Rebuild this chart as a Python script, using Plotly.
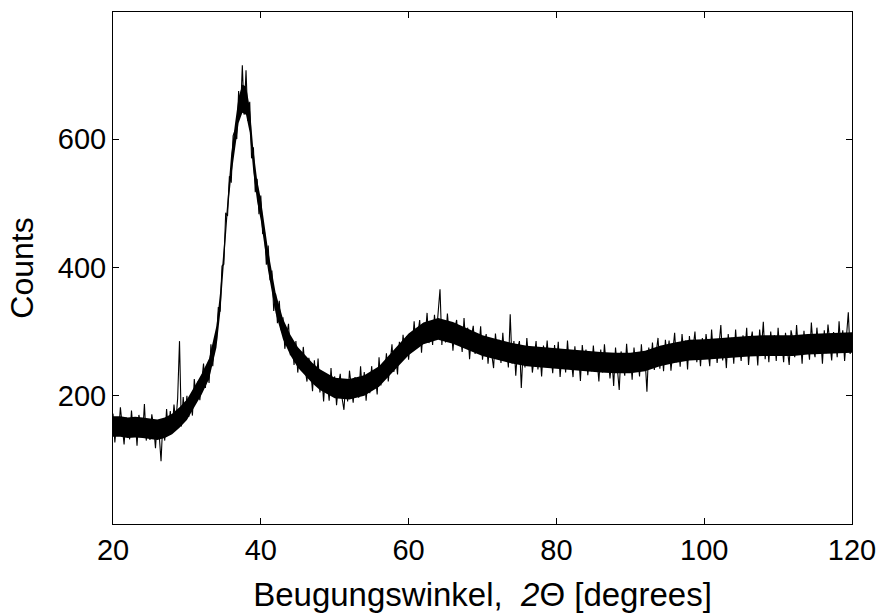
import numpy as np
import plotly.graph_objects as go

# X-ray diffraction scan, sampled every 0.25 degrees (2-theta) from 20 to 120.
STEP = 0.25
START = 20.0

# Counts, 20.00 - 44.75 deg
counts_20_45 = [
    172, 127, 160, 140, 182, 147, 124, 166, 155, 132, 177, 142, 164, 122, 170, 154, 137, 187, 130, 158,
    131, 171, 153, 118, 162, 139, 98, 160, 130, 179, 143, 176, 145, 186, 158, 196, 285, 152, 198, 163,
    200, 167, 194, 169, 226, 195, 222, 193, 222, 250, 212, 246, 220, 280, 246, 288, 284, 338, 331, 402,
    405, 485, 480, 542, 532, 605, 613, 600, 675, 637, 715, 638, 707, 628, 658, 570, 587, 517, 538, 483,
    512, 452, 456, 404, 434, 380, 395, 332, 359, 313, 348, 302, 322, 273, 294, 312, 263, 284, 248, 285,
]

# Counts, 45.00 - 69.75 deg
counts_45_70 = [
    236, 265, 239, 276, 241, 222, 259, 240, 207, 255, 218, 258, 205, 233, 191, 235, 222, 192, 243, 204,
    230, 185, 217, 234, 196, 178, 222, 191, 239, 208, 189, 229, 216, 197, 246, 204, 237, 192, 227, 204,
    246, 214, 232, 202, 260, 216, 247, 232, 266, 222, 256, 280, 237, 262, 233, 284, 256, 295, 266, 293,
    256, 293, 277, 316, 274, 296, 318, 267, 311, 292, 329, 282, 310, 279, 326, 294, 333, 366, 279, 318,
    283, 328, 295, 312, 270, 305, 318, 279, 297, 268, 321, 278, 306, 257, 292, 309, 265, 292, 273, 308,
]

# Counts, 70.00 - 94.75 deg
counts_70_95 = [
    256, 283, 296, 250, 287, 264, 243, 297, 268, 287, 251, 298, 258, 277, 244, 327, 250, 285, 231, 274,
    285, 212, 271, 244, 290, 256, 276, 236, 266, 285, 241, 271, 230, 278, 252, 286, 246, 266, 235, 279,
    246, 284, 229, 263, 272, 236, 286, 247, 257, 229, 277, 241, 265, 223, 279, 251, 272, 232, 262, 238,
    278, 242, 256, 222, 272, 236, 280, 246, 263, 227, 259, 215, 275, 237, 209, 269, 253, 231, 281, 243,
    265, 225, 275, 245, 262, 230, 280, 239, 258, 206, 275, 246, 283, 240, 267, 290, 242, 277, 238, 287,
]

# Counts, 95.00 - 120.00 deg
counts_95_120 = [
    258, 286, 239, 273, 298, 252, 281, 245, 296, 266, 286, 241, 293, 259, 275, 300, 252, 282, 246, 290,
    258, 296, 274, 246, 303, 263, 287, 251, 279, 310, 255, 283, 243, 296, 268, 290, 250, 303, 263, 279,
    254, 294, 268, 306, 248, 282, 300, 263, 287, 247, 303, 273, 315, 257, 290, 252, 300, 268, 294, 254,
    306, 266, 284, 252, 298, 274, 248, 302, 288, 260, 310, 270, 292, 250, 301, 265, 284, 256, 314, 274,
    260, 306, 272, 292, 250, 302, 266, 311, 277, 255, 299, 288, 260, 316, 270, 302, 254, 292, 330, 265,
    290,
]

# Dense core of the noisy trace: running centre and half-width of the band
band_theta = [
    20, 21, 22, 23, 24, 25, 26, 27, 28, 29, 30, 31, 32, 33, 34, 34.5, 35, 35.5, 36, 36.5,
    37, 37.5, 38, 38.5, 39, 39.5, 40, 41, 42, 43, 44, 45, 46, 47, 48, 49, 50, 52, 54, 56,
    58, 60, 62, 64, 66, 68, 70, 72, 74, 76, 78, 80, 82, 84, 86, 88, 90, 92, 94, 96,
    98, 100, 102, 104, 106, 108, 110, 112, 114, 116, 118, 120,
]
band_center = [
    152, 152, 150, 151, 150, 149, 147, 150, 156, 166, 178, 198, 218, 242, 292, 345, 420, 500, 560, 605,
    645, 663, 660, 630, 565, 520, 490, 410, 345, 304, 279, 260, 247, 235, 225, 218, 212, 210, 216, 230,
    255, 280, 297, 304, 298, 288, 278, 272, 266, 262, 260, 258, 255, 254, 252, 251, 251, 254, 262, 267,
    271, 272, 274, 275, 277, 278, 278, 278, 280, 281, 282, 283,
]
band_half = [
    16, 16, 16, 16, 16, 16, 16, 16, 16, 16, 16, 16, 16, 16, 17, 17, 17, 17, 18, 18,
    20, 22, 22, 20, 18, 17, 17, 16, 16, 16, 16, 16, 16, 16, 16, 16, 16, 16, 16, 16,
    16, 17, 17, 17, 17, 16, 16, 16, 16, 16, 16, 16, 16, 16, 16, 16, 16, 16, 16, 16,
    16, 16, 16, 16, 16, 16, 16, 16, 16, 16, 16, 16,
]

x_ticks = [20, 40, 60, 80, 100, 120]
y_ticks = [200, 400, 600]

counts = np.array(counts_20_45 + counts_45_70 + counts_70_95 + counts_95_120, dtype=float)
two_theta = START + STEP * np.arange(len(counts))

band_lo = np.array(band_center) - np.array(band_half)
band_hi = np.array(band_center) + np.array(band_half)

FONT = "Liberation Sans, Arial, Helvetica, sans-serif"

fig = go.Figure()
fig.add_trace(
    go.Scatter(
        x=band_theta, y=band_lo, mode="lines",
        line=dict(color="black", width=0), hoverinfo="skip",
    )
)
fig.add_trace(
    go.Scatter(
        x=band_theta, y=band_hi, mode="lines", fill="tonexty",
        fillcolor="black", line=dict(color="black", width=0), hoverinfo="skip",
    )
)
fig.add_trace(
    go.Scatter(
        x=two_theta,
        y=counts,
        mode="lines",
        line=dict(color="black", width=1.1),
        hoverinfo="x+y",
    )
)

axis_common = dict(
    showline=True,
    linecolor="black",
    linewidth=1,
    mirror="ticks",
    ticks="inside",
    ticklen=6,
    tickwidth=1,
    tickcolor="black",
    showgrid=False,
    zeroline=False,
    automargin=False,
    ticklabeloverflow="allow",
    tickfont=dict(family=FONT, size=29, color="black"),
)

fig.update_xaxes(
    range=[20, 120],
    tickvals=x_ticks,
    ticktext=[str(v) for v in x_ticks],
    title=dict(
        text="Beugungswinkel,  <i>2</i>Θ [degrees]",
        font=dict(family=FONT, size=33, color="black"),
        standoff=22,
    ),
    **axis_common,
)
fig.update_yaxes(
    range=[0, 798],
    tickvals=y_ticks,
    ticktext=[str(v) for v in y_ticks],
    title=dict(
        text="Counts",
        font=dict(family=FONT, size=32, color="black"),
        standoff=14,
    ),
    **axis_common,
)

fig.update_layout(
    width=882,
    height=613,
    margin=dict(l=113, r=30, t=12, b=89, autoexpand=False),
    paper_bgcolor="white",
    plot_bgcolor="white",
    showlegend=False,
)

fig.write_html("out.html")
